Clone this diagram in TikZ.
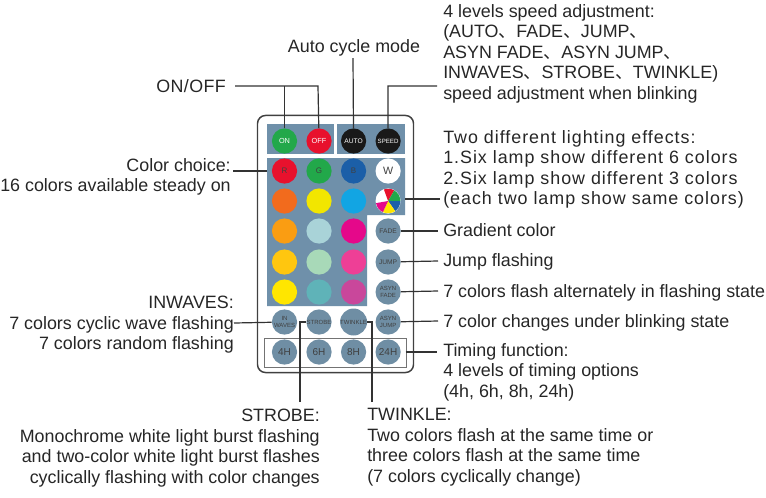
\documentclass[tikz,border=0pt]{standalone}
\usepackage{fontspec}
\setmainfont{Liberation Sans}
\newfontfamily\cjk{Noto Sans CJK SC}
\usepackage{xcolor}
\colorlet{colorText}{black!85}
\colorlet{colorLine}{black!80}
\definecolor{colorPanel}{HTML}{6F90AA}
\definecolor{colorKey}{HTML}{6F8EA4}
\definecolor{colorGreen}{HTML}{22A84A}
\definecolor{colorRed}{HTML}{E8112D}
\definecolor{colorBlue}{HTML}{1B5FA8}
\definecolor{colorOrange}{HTML}{F26B1D}
\definecolor{colorYellow}{HTML}{F2E600}
\definecolor{colorSky}{HTML}{12A5E3}
\definecolor{colorAmber}{HTML}{FA9D12}
\definecolor{colorPale}{HTML}{A9D3D8}
\definecolor{colorMagenta}{HTML}{E5088A}
\definecolor{colorGold}{HTML}{FFC60F}
\definecolor{colorMint}{HTML}{A8D9B8}
\definecolor{colorPink}{HTML}{EE3F96}
\definecolor{colorLemon}{HTML}{FFE600}
\definecolor{colorTeal}{HTML}{5FB3B8}
\definecolor{colorPlum}{HTML}{C9479B}
\usetikzlibrary{positioning}
\newcommand{\dun}{{\cjk 、}}
\tikzset{
  label text/.style={text=colorText, font=\fontsize{13.4}{15.4}\selectfont, inner sep=0pt},
  key/.style={circle, minimum size=18.9pt, inner sep=0pt, fill=colorKey, text=black!75, align=center, font=\fontsize{4.5}{4.8}\selectfont},
  lamp/.style={key, fill=#1},
  wire/.style={colorLine, line width=0.9pt},
}
\begin{document}
\begin{tikzpicture}[x=0.75pt, y=-0.75pt, node distance=25.9pt]
\useasboundingbox (0,0) rectangle (766,497);
% remote body
\node[draw=black!75, line width=1.1pt, rounded corners=6pt, fill=white, minimum width=117pt, minimum height=192.8pt, inner sep=0pt] (body) at (335.5,244) {};
\node[fill=colorPanel, minimum width=50.2pt, minimum height=22pt, inner sep=0pt] (panelA) at (300.5,139) {};
\node[fill=colorPanel, minimum width=51pt, minimum height=22pt, inner sep=0pt] (panelB) at (371,139) {};
\fill[colorPanel] (267,158) -- (405,158) -- (405,215) -- (367,215) -- (367,306) -- (267,306) -- cycle;
\node[draw=black!55, line width=0.6pt, minimum width=106.5pt, minimum height=21.8pt, inner sep=0pt] (timerbox) at (335,352.5) {};
% keys, row by row
\node[lamp=colorGreen, text=white] (on) at (284.5,141) {\fontsize{5.5}{6}\selectfont ON};
\node[lamp=colorRed, text=white, right of=on] (off) {\fontsize{5.5}{6}\selectfont OFF};
\node[lamp=black!90, text=white, right of=off] (auto) {\fontsize{5}{6}\selectfont AUTO};
\node[lamp=black!90, text=white, right of=auto] (speed) {\fontsize{4.6}{6}\selectfont SPEED};
\node[lamp=colorRed] (r) at (284.5,171) {\fontsize{6}{6}\selectfont R};
\node[lamp=colorGreen, right of=r] (g) {\fontsize{6}{6}\selectfont G};
\node[lamp=colorBlue, right of=g] (b) {\fontsize{6}{6}\selectfont B};
\node[lamp=white, right of=b] (w) {\fontsize{8}{8}\selectfont W};
\node[lamp=colorOrange] (c21) at (284.5,201) {};
\node[lamp=colorYellow, right of=c21] (c22) {};
\node[lamp=colorSky, right of=c22] (c23) {};
\node[lamp=white, right of=c23] (wheel) {};
\node[lamp=colorAmber] (c31) at (284.5,231) {};
\node[lamp=colorPale, right of=c31] (c32) {};
\node[lamp=colorMagenta, right of=c32] (c33) {};
\node[key, right of=c33] (fade) {\fontsize{5}{6}\selectfont FADE};
\node[lamp=colorGold] (c41) at (284.5,262) {};
\node[lamp=colorMint, right of=c41] (c42) {};
\node[lamp=colorPink, right of=c42] (c43) {};
\node[key, right of=c43] (jump) {\fontsize{5}{6}\selectfont JUMP};
\node[lamp=colorLemon] (c51) at (284.5,292) {};
\node[lamp=colorTeal, right of=c51] (c52) {};
\node[lamp=colorPlum, right of=c52] (c53) {};
\node[key, right of=c53] (asynfade) {ASYN\\FADE};
\node[key] (inwaves) at (284.5,322) {IN\\WAVES};
\node[key, right of=inwaves] (strobe) {STROBE};
\node[key, right of=strobe] (twinkle) {TWINKLE};
\node[key, right of=twinkle] (asynjump) {ASYN\\JUMP};
\node[key] (t4) at (284.5,352) {\fontsize{7.5}{8}\selectfont 4H};
\node[key, right of=t4] (t6) {\fontsize{7.5}{8}\selectfont 6H};
\node[key, right of=t6] (t8) {\fontsize{7.5}{8}\selectfont 8H};
\node[key, right of=t8] (t24) {\fontsize{7.5}{8}\selectfont 24H};
% colour wheel
\fill[white] (wheel.center) -- +(110:9.2pt) arc (110:190:9.2pt) -- cycle;
\fill[colorRed] (wheel.center) -- +(60:9.2pt) arc (60:110:9.2pt) -- cycle;
\fill[colorGreen] (wheel.center) -- +(0:9.2pt) arc (0:60:9.2pt) -- cycle;
\fill[colorBlue] (wheel.center) -- +(-55:9.2pt) arc (-55:0:9.2pt) -- cycle;
\fill[colorLemon] (wheel.center) -- +(-115:9.2pt) arc (-115:-55:9.2pt) -- cycle;
\fill[colorMagenta] (wheel.center) -- +(-170:9.2pt) arc (-170:-115:9.2pt) -- cycle;
% labels
\node[label text, anchor=east] (lonoff) at (226,86) {\addfontfeature{LetterSpace=2}ON/OFF};
\node[label text] (lauto) at (354,48) {Auto cycle mode};
\node[label text, anchor=north west, align=left] (lspeed) at (443,4) {4 levels speed adjustment:\\(AUTO\dun FADE\dun JUMP\dun\\ASYN FADE\dun ASYN JUMP\dun\\INWAVES\dun STROBE\dun TWINKLE)\\speed adjustment when blinking};
\node[label text, anchor=north east, align=right] (lcolor) at (231,158) {Color choice:\\16 colors available steady on};
\node[label text, anchor=north west, align=left] (leffect) at (443,130) {\addfontfeature{LetterSpace=5.5}Two different lighting effects:\\\addfontfeature{LetterSpace=5.5}1.Six lamp show different 6 colors\\\addfontfeature{LetterSpace=5.5}2.Six lamp show different 3 colors\\\addfontfeature{LetterSpace=5.5}(each two lamp show same colors)};
\node[label text, anchor=west] (lfade) at (443,230) {Gradient color};
\node[label text, anchor=west] (ljump) at (443,261.5) {Jump flashing};
\node[label text, anchor=west] (lasynfade) at (443,293) {7 colors flash alternately in flashing state};
\node[label text, anchor=west] (lasynjump) at (443,323) {7 color changes under blinking state};
\node[label text, anchor=north west, align=left] (ltimer) at (443,343) {Timing function:\\4 levels of timing options\\(4h, 6h, 8h, 24h)};
\node[label text, anchor=east, align=right] (linwaves) at (234,325) {INWAVES:\\7 colors cyclic wave flashing\\7 colors random flashing};
\node[label text, anchor=north east, align=right] (lstrobe) at (320,409) {STROBE:\\Monochrome white light burst flashing\\and two-color white light burst flashes\\cyclically flashing with color changes};
\node[label text, anchor=north west, align=left] (ltwinkle) at (367,408) {TWINKLE:\\Two colors flash at the same time or\\three colors flash at the same time\\(7 colors cyclically change)};
% free ends of the connectors
\coordinate (onoffend) at (235,86);
\coordinate (onknee) at (284.5,86);
\coordinate (offknee) at (318,86);
\coordinate (autoend) at (353,58);
\coordinate (speedknee) at (388,86);
\coordinate (speedend) at (437,86);
\coordinate (colorend) at (233,171);
\coordinate (panelend) at (267,171);
\coordinate (wheelstart) at (405,199);
\coordinate (wheelend) at (440,199);
\coordinate (fadeend) at (438,231);
\coordinate (jumpend) at (438,261);
\coordinate (asynfadeend) at (438,291);
\coordinate (asynjumpend) at (438,321);
\coordinate (timerstart) at (405.5,352);
\coordinate (timerend) at (437,352);
\coordinate (inwavesend) at (234,323);
\coordinate (strobeknee) at (300,322);
\coordinate (strobeend) at (300,402);
\coordinate (twinkleknee) at (372,322);
\coordinate (twinkleend) at (372,402);
% connectors
\draw[wire] (onoffend) -- (offknee) -- (off);
\draw[wire] (onknee) -- (on);
\draw[wire] (autoend) -- (auto);
\draw[wire] (speedend) -- (speedknee) -- (speed);
\draw[wire] (colorend) -- (panelend);
\draw[wire] (wheelstart) -- (wheelend);
\draw[wire] (fade) -- (fadeend);
\draw[wire] (jump) -- (jumpend);
\draw[wire] (asynfade) -- (asynfadeend);
\draw[wire] (asynjump) -- (asynjumpend);
\draw[wire] (timerstart) -- (timerend);
\draw[wire] (inwavesend) -- (inwaves);
\draw[wire] (strobeend) -- (strobeknee) -- (strobe);
\draw[wire] (twinkleend) -- (twinkleknee) -- (twinkle);
\end{tikzpicture}
\end{document}
